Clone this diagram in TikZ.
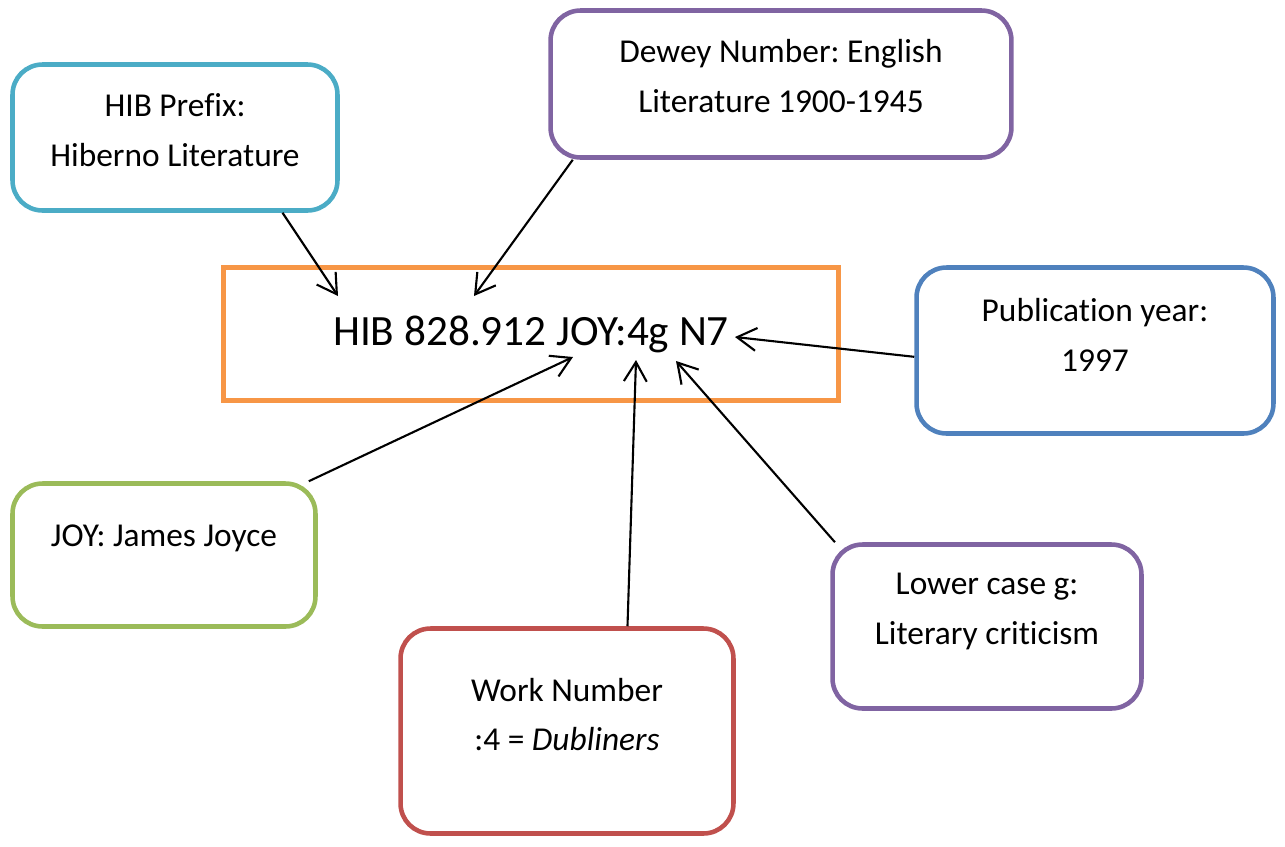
\documentclass[tikz,border=0pt]{standalone}
\usepackage{fontspec}
\setmainfont{Carlito}[Ligatures=NoCommon]
\frenchspacing
\usetikzlibrary{arrows.meta}

\definecolor{boxteal}{HTML}{4BACC6}
\definecolor{boxpurple}{HTML}{8064A2}
\definecolor{boxorange}{HTML}{F79646}
\definecolor{boxblue}{HTML}{4F81BD}
\definecolor{boxgreen}{HTML}{9BBB59}
\definecolor{boxred}{HTML}{C0504D}

\tikzset{
  callout/.style={draw=#1, line width=2.6pt, rounded corners=0.6cm, inner sep=0pt},
  calltext/.style={align=center, inner sep=0pt, font=\fontsize{19}{28.4}\selectfont},
  pointer/.style={-{Straight Barb[length=11pt,width=13pt]}, line width=1.2pt},
}

\begin{document}
\begin{tikzpicture}[x=0.02cm, y=-0.02cm]
	% Canvas (pixel units, y downwards)
	\useasboundingbox (0,0) rectangle (1285,846);
	
	% Call number
	\node[draw=boxorange, line width=2.6pt, minimum width=12.3cm, minimum height=2.66cm,
	      font=\fontsize{24.6}{30}\selectfont] (callno) at (531,334) {HIB 828.912 JOY:4g N7};
	
	% Callout boxes
	\node[callout=boxteal,   minimum width=6.5cm,  minimum height=2.92cm] (prefix) at (175,137.5) {};
	\node[callout=boxpurple, minimum width=9.22cm, minimum height=2.94cm] (dewey)  at (781,84) {};
	\node[callout=boxblue,   minimum width=7.14cm, minimum height=3.32cm] (year)   at (1095,350.5) {};
	\node[callout=boxgreen,  minimum width=6.06cm, minimum height=2.86cm] (author) at (164,555) {};
	\node[callout=boxred,    minimum width=6.66cm, minimum height=4.1cm]  (work)   at (567,731) {};
	\node[callout=boxpurple, minimum width=6.18cm, minimum height=3.28cm] (lower)  at (987,626.5) {};
	
	% Callout texts
	\node[calltext] (prefixtext) at (175,130) {HIB Prefix:\\Hiberno Literature};
	\node[calltext] (deweytext)  at (781,76) {Dewey Number: English\\Literature 1900-1945};
	\node[calltext] (yeartext)   at (1095,335) {Publication year:\\1997};
	\node[calltext] (authortext) at (164,538) {JOY: James Joyce};
	\node[calltext] (worktext)   at (567,714.5) {Work Number\\:4 = \textit{Dubliners}};
	\node[calltext] (lowertext)  at (987,611.5) {Lower case g:\\Literary criticism};
	
	% Arrow tips on the call number
	\coordinate (tipprefix) at (338,296);
	\coordinate (tipdewey)  at (474,296);
	\coordinate (tipyear)   at (735,337);
	\coordinate (tipauthor) at (573,357);
	\coordinate (tipwork)   at (636,360);
	\coordinate (tiplower)  at (676,361);
	
	% Pointers
	\draw[pointer] (prefix.-35) -- (tipprefix);
	\draw[pointer] (dewey.200) -- (tipdewey);
	\draw[pointer] (year.182) -- (tipyear);
	\draw[pointer] (author.27) -- (tipauthor);
	\draw[pointer] (work.60) -- (tipwork);
	\draw[pointer] (lower.151.5) -- (tiplower);
	
\end{tikzpicture}
\end{document}
